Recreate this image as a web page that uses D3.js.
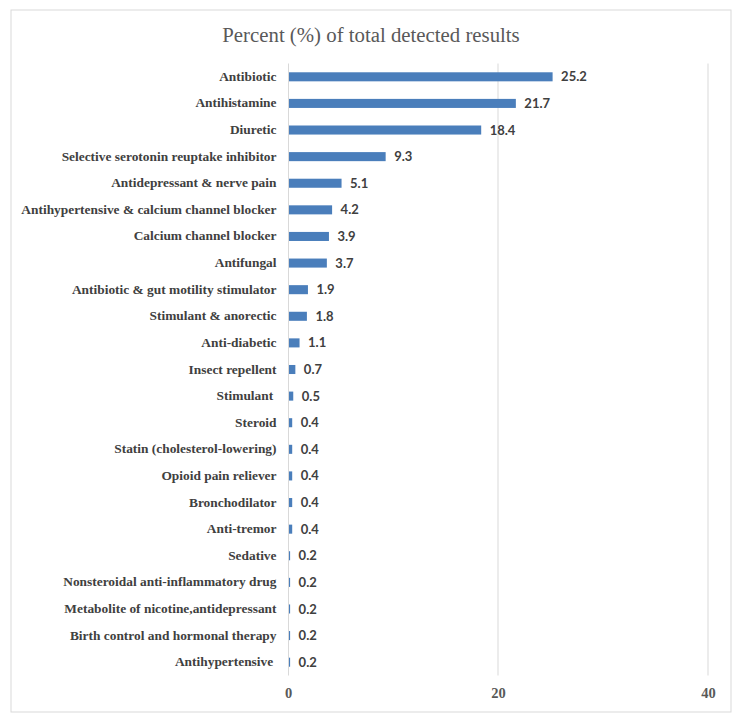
<!DOCTYPE html>
<html>
<head>
<meta charset="utf-8">
<script src="https://cdn.jsdelivr.net/npm/d3@7"></script>
<style>
  html, body { margin: 0; padding: 0; background: #fff; }
  svg { display: block; }
</style>
</head>
<body>
<svg id="chart" width="741" height="721"></svg>
<script>
const categories = [
  "Antibiotic",
  "Antihistamine",
  "Diuretic",
  "Selective serotonin reuptake inhibitor",
  "Antidepressant & nerve pain",
  "Antihypertensive & calcium channel blocker",
  "Calcium channel blocker",
  "Antifungal",
  "Antibiotic & gut motility stimulator",
  "Stimulant & anorectic",
  "Anti-diabetic",
  "Insect repellent",
  "Stimulant ",
  "Steroid",
  "Statin (cholesterol-lowering)",
  "Opioid pain reliever",
  "Bronchodilator",
  "Anti-tremor",
  "Sedative",
  "Nonsteroidal anti-inflammatory drug",
  "Metabolite of nicotine,antidepressant",
  "Birth control and hormonal therapy",
  "Antihypertensive "
];
const values = [25.2, 21.7, 18.4, 9.3, 5.1, 4.2, 3.9, 3.7, 1.9, 1.8, 1.1, 0.7, 0.5, 0.4, 0.4, 0.4, 0.4, 0.4, 0.2, 0.2, 0.2, 0.2, 0.2];
const tickValues = [0, 20, 40];
const title = "Percent (%) of total detected results";

const data = categories.map((c, i) => ({ category: c, value: values[i] }));

const svg = d3.select("#chart");

// outer frame
svg.append("rect")
  .attr("x", 11).attr("y", 10).attr("width", 720).attr("height", 702)
  .attr("fill", "#fff").attr("stroke", "#d9d9d9").attr("stroke-width", 1);

const x = d3.scaleLinear().domain([0, 40]).range([288, 708]);
const y = d3.scaleBand().domain(categories).range([63.5, 675.5]).paddingInner(0.66).paddingOuter(0.33);

// title
svg.append("text")
  .attr("x", 371).attr("y", 42)
  .attr("text-anchor", "middle")
  .attr("font-family", "'Liberation Serif', 'Times New Roman', serif")
  .attr("font-size", 20.8)
  .attr("fill", "#595959")
  .text(title);

// gridlines
svg.append("g").selectAll("line")
  .data(tickValues.filter(t => t !== 0))
  .join("line")
  .attr("x1", d => x(d)).attr("x2", d => x(d))
  .attr("y1", 63.5).attr("y2", 675.5)
  .attr("stroke", "#d9d9d9").attr("stroke-width", 1);

// x axis tick labels
const xAxis = d3.axisBottom(x).tickValues(tickValues).tickSize(0).tickPadding(0);
const gx = svg.append("g").attr("transform", "translate(0,688)").call(xAxis);
gx.select(".domain").remove();
gx.selectAll("text")
  .attr("font-family", "'Liberation Serif', 'Times New Roman', serif")
  .attr("font-weight", "bold")
  .attr("font-size", 14.5)
  .attr("fill", "#595959")
  .attr("dy", "0.71em");

// y axis labels
const yAxis = d3.axisLeft(y).tickSize(0).tickPadding(0);
const gy = svg.append("g").attr("transform", "translate(276.5,0)").call(yAxis);
gy.select(".domain").remove();
gy.selectAll("text")
  .attr("font-family", "'Liberation Serif', 'Times New Roman', serif")
  .attr("font-weight", "bold")
  .attr("font-size", 13.4)
  .attr("fill", "#404040")
  .style("white-space", "pre")
  .attr("dy", "0.30em");

// bars
svg.append("g").selectAll("rect")
  .data(data)
  .join("rect")
  .attr("x", x(0))
  .attr("y", d => y(d.category))
  .attr("width", d => x(d.value) - x(0))
  .attr("height", y.bandwidth())
  .attr("fill", "#4a7ebb");

// axis line at 0
svg.append("line")
  .attr("x1", x(0) + 0.5).attr("x2", x(0) + 0.5)
  .attr("y1", 63.5).attr("y2", 675.5)
  .attr("stroke", "#d9d9d9").attr("stroke-width", 1);

// value labels
svg.append("g").selectAll("text")
  .data(data)
  .join("text")
  .attr("x", d => x(d.value) + 8.5)
  .attr("y", d => y(d.category) + y.bandwidth() / 2)
  .attr("dy", "0.35em")
  .attr("font-family", "Lato, 'Open Sans', sans-serif")
  .attr("font-weight", "bold")
  .attr("font-size", 13)
  .attr("fill", "#404040")
  .text(d => d.value.toFixed(1));
</script>
</body>
</html>
